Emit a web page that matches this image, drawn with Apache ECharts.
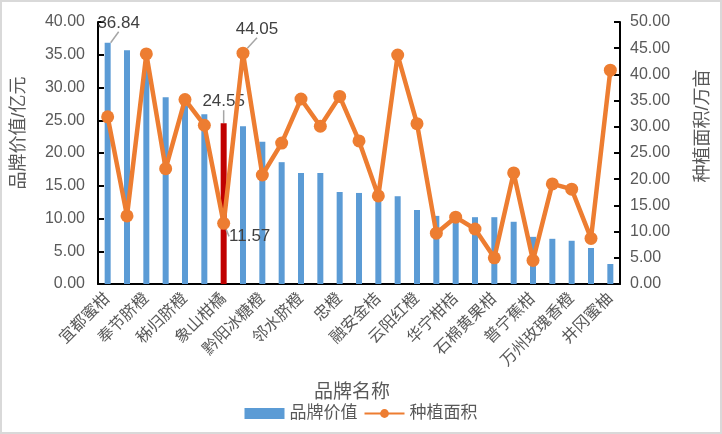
<!DOCTYPE html>
<html>
<head>
<meta charset="utf-8">
<script src="https://cdn.jsdelivr.net/npm/echarts@6/dist/echarts.min.js"></script>
<style>
html,body{margin:0;padding:0;background:#fff;}
#wrap{width:722px;height:434px;box-sizing:border-box;border:2px solid #d9d9d9;}
#chart{width:718px;height:430px;}
</style>
</head>
<body>
<div id="wrap"><div id="chart"></div></div>
<script>
const categories = ['宜都蜜柑','麻阳冰糖橙','奉节脐橙','常山胡柚','秭归脐橙','新会柑','象山柑橘','琯溪蜜柚','黔阳冰糖橙','南丰蜜桔','邻水脐橙','梅州金柚','忠橙','黄岩蜜桔','融安金桔','寻乌蜜桔','云阳红橙','蒲江丑柑','华宁柑桔','长寿沙田柚','石棉黄果柑','丹棱不知火','普宁蕉柑','永春芦柑','万州玫瑰香橙','玉环文旦','井冈蜜柚'];
const brandValue = [36.84, 35.7, 32.8, 28.5, 27.2, 25.9, 24.55, 24.1, 21.7, 18.6, 16.95, 16.95, 14.05, 13.9, 13.7, 13.4, 11.3, 10.4, 10.3, 10.2, 10.2, 9.5, 7.2, 6.9, 6.6, 5.5, 3.05];
const plantArea = [31.9, 13.0, 43.9, 22.0, 35.2, 30.3, 11.57, 44.05, 20.8, 26.9, 35.3, 30.1, 35.8, 27.3, 16.8, 43.7, 30.6, 9.7, 12.75, 10.5, 5.0, 21.2, 4.5, 19.1, 18.1, 8.7, 40.8];
const leftTicks = {min: 0, max: 40, interval: 5};
const rightTicks = {min: 0, max: 50, interval: 5};
const highlightIndex = 6;
const barLabelIdx = [0, 6];
const lineLabelIdx = [6, 7];

const fontFam = 'Liberation Sans, Noto Sans CJK SC, sans-serif';
const chart = echarts.init(document.getElementById('chart'));

const barData = brandValue.map((v, i) => {
  const d = {value: v};
  if (i === highlightIndex) d.itemStyle = {color: '#c00000'};
  if (barLabelIdx.includes(i)) d.label = {show: true};
  return d;
});
const lineData = plantArea.map((v, i) => {
  const d = {value: v};
  if (lineLabelIdx.includes(i)) d.label = {show: true};
  return d;
});

const labelStyle = {color: '#404040', fontSize: 17, fontFamily: fontFam, formatter: p => p.value.toFixed(2)};

chart.setOption({
  animation: false,
  textStyle: {fontFamily: fontFam},
  grid: {left: 95, right: 93, top: 20, bottom: 148, containLabel: false},
  legend: {
    bottom: 5, left: 'center', itemWidth: 40, itemHeight: 11, itemGap: 6,
    textStyle: {color: '#595959', fontSize: 17, fontFamily: fontFam},
    data: [{name: '品牌价值', icon: 'rect'}, {name: '种植面积'}]
  },
  xAxis: {
    type: 'category', data: categories,
    name: '品牌名称', nameLocation: 'middle', nameGap: 99,
    nameTextStyle: {color: '#595959', fontSize: 19, padding: [0, 14, 0, 0]},
    axisLine: {lineStyle: {color: '#000', width: 2}},
    axisTick: {show: false},
    axisLabel: {interval: 1, rotate: 45, color: '#595959', fontSize: 16, margin: 12}
  },
  yAxis: [{
    type: 'value', min: leftTicks.min, max: leftTicks.max, interval: leftTicks.interval,
    name: '品牌价值/亿元', nameLocation: 'middle', nameGap: 70,
    nameTextStyle: {color: '#595959', fontSize: 18, padding: [0, 0, 0, 40]},
    axisLine: {show: true, lineStyle: {color: '#000', width: 2}},
    axisTick: {show: true, inside: true, length: 6, lineStyle: {color: '#000', width: 2}},
    splitLine: {show: false},
    axisLabel: {color: '#595959', fontSize: 16, margin: 13, formatter: v => v.toFixed(2)}
  }, {
    type: 'value', min: rightTicks.min, max: rightTicks.max, interval: rightTicks.interval,
    name: '种植面积/万亩', nameLocation: 'middle', nameGap: 74,
    nameTextStyle: {color: '#595959', fontSize: 18, padding: [0, 0, 0, 54]},
    axisLine: {show: true, lineStyle: {color: '#000', width: 2}},
    axisTick: {show: true, inside: true, length: 6, lineStyle: {color: '#000', width: 2}},
    splitLine: {show: false},
    axisLabel: {color: '#595959', fontSize: 16, margin: 10, formatter: v => v.toFixed(2)}
  }],
  series: [{
    name: '品牌价值', type: 'bar', yAxisIndex: 0, data: barData,
    barWidth: 6, itemStyle: {color: '#5b9bd5'},
    label: Object.assign({show: false, position: 'top', distance: 4}, labelStyle),
    labelLine: {show: true, lineStyle: {color: '#a6a6a6', width: 1.5}},
    labelLayout: p => p.dataIndex === 0 ? {dx: 11, dy: -7} : (p.dataIndex === highlightIndex ? {dy: -9} : {})
  }, {
    name: '种植面积', type: 'line', yAxisIndex: 1, data: lineData,
    symbol: 'circle', symbolSize: 13, showAllSymbol: true,
    lineStyle: {color: '#ed7d31', width: 4.5},
    itemStyle: {color: '#ed7d31'},
    label: Object.assign({show: false, position: 'top', distance: 6}, labelStyle),
    labelLine: {show: true, lineStyle: {color: '#a6a6a6', width: 1.5}},
    labelLayout: p => p.dataIndex === 7 ? {dx: 14, dy: -3} : (p.dataIndex === 6 ? {dx: 26, dy: 34} : {})
  }]
});
</script>
</body>
</html>
